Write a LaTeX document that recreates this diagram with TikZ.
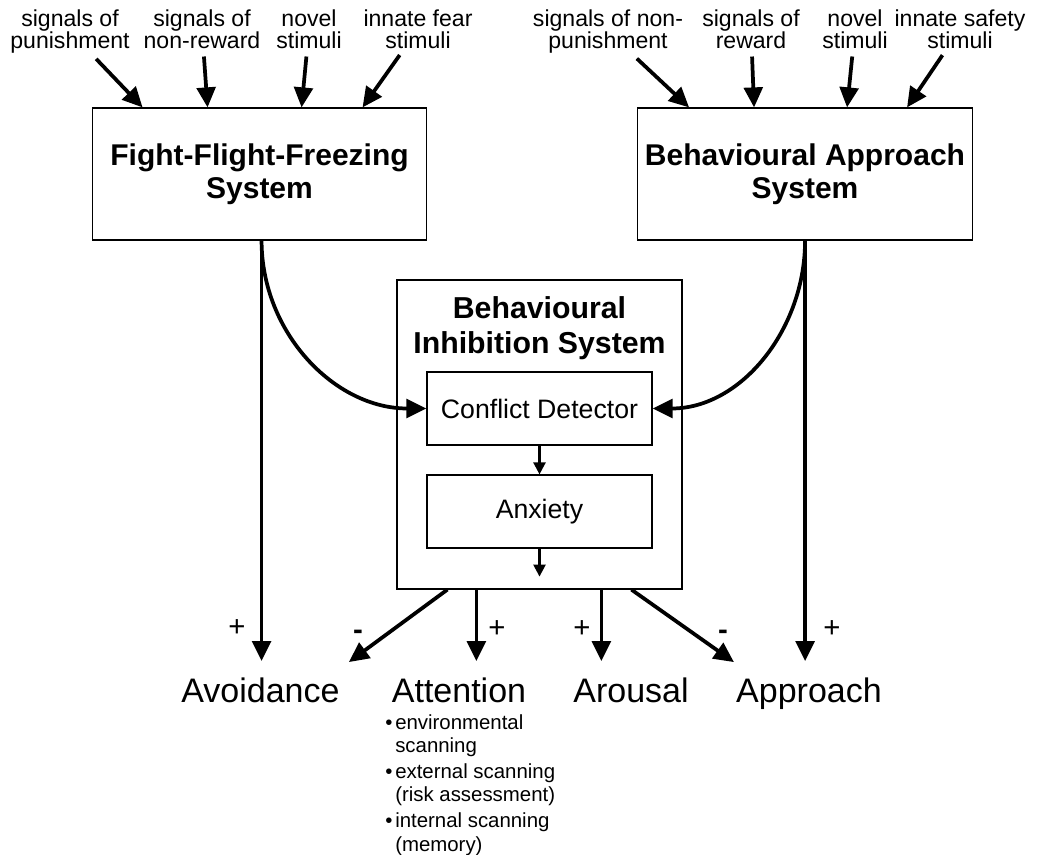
\documentclass[tikz,border=0pt]{standalone}
\usepackage{fontspec}
\setmainfont{Liberation Sans}
\usetikzlibrary{arrows.meta, calc, positioning}

\begin{document}
\begin{tikzpicture}[x=0.75pt, y=-0.75pt, >={Triangle[length=15pt,width=14pt]},
		sysbox/.style={draw, line width=0.9pt, minimum width=251pt, minimum height=99pt, align=center,
				font=\bfseries\fontsize{22.5}{25}\selectfont},
		innerbox/.style={draw, line width=0.9pt, minimum width=168.75pt, minimum height=54.75pt,
				font=\fontsize{20}{24}\selectfont},
		inlabel/.style={anchor=north, align=center, inner sep=0pt,
				font={\fontsize{17.3}{15.8}\selectfont\lineskiplimit=-20pt\relax}},
		outcome/.style={anchor=base, inner sep=0pt, font=\fontsize{25.5}{30}\selectfont},
		sign/.style={inner sep=0pt, font=\fontsize{22}{24}\selectfont},
		inarr/.style={->, line width=2.8pt, shorten <=6pt},
		arr/.style={->, line width=2.8pt},
		smallarr/.style={line width=1.8pt, -{Triangle[length=9pt,width=9pt]}}]

		\useasboundingbox (0,0) rectangle (1050,855);

		% Systems
		\node[sysbox] (fff) at (259.5,174) {Fight-Flight-Freezing\\System};
		\node[sysbox] (bas) at (805,174) {Behavioural Approach\\System};

		% Inputs, left
		\node[inlabel] (f1) at (70,10) {signals of\\punishment};
		\node[inlabel] (f2) at (202,10) {signals of\\non-reward};
		\node[inlabel] (f3) at (309,10) {novel\\stimuli};
		\node[inlabel] (f4) at (418,10) {innate fear\\stimuli};

		% Inputs, right
		\node[inlabel] (b1) at (608,10) {signals of non-\\punishment};
		\node[inlabel] (b2) at (751,10) {signals of\\reward};
		\node[inlabel] (b3) at (855,10) {novel\\stimuli};
		\node[inlabel] (b4) at (960,10) {innate safety\\stimuli};

		\draw[inarr] (f1) -- ($(fff.north west)+(51,0)$);
		\draw[inarr] (f2) -- ($(fff.north west)+(116,0)$);
		\draw[inarr] (f3) -- ($(fff.north west)+(210,0)$);
		\draw[inarr] (f4) -- ($(fff.north west)+(271,0)$);

		\draw[inarr] (b1) -- ($(bas.north west)+(52,0)$);
		\draw[inarr] (b2) -- ($(bas.north west)+(117,0)$);
		\draw[inarr] (b3) -- ($(bas.north west)+(210,0)$);
		\draw[inarr] (b4) -- ($(bas.north west)+(270,0)$);

		% Behavioural Inhibition System
		\node[draw, line width=0.9pt, minimum width=213.75pt, minimum height=231.75pt] (bis) at (539.5,434.5) {};
		\node[align=center, font=\bfseries\fontsize{22.7}{26}\selectfont] (bistitle) at (539.5,328) {Behavioural\\Inhibition System};
		\node[innerbox] (cd) at (539.5,408.5) {Conflict Detector};
		\node[innerbox] (anx) at (539.5,511.5) {Anxiety};

		\draw[smallarr] (cd) -- (anx);
		\draw[smallarr] (anx.south) -- ++(0,28) coordinate (anxout);

		% Outcomes
		\node[outcome] (avoid) at (260.5,702) {Avoidance};
		\node[outcome] (att) at (459,702) {Attention};
		\node[outcome] (arou) at (631,702) {Arousal};
		\node[outcome] (appr) at (809,702) {Approach};

		\node[anchor=north west, inner sep=0pt, align=left, font=\fontsize{15.3}{17.5}\selectfont] (scan) at (395,714)
			{\llap{\textbullet\hspace{2pt}}environmental\\scanning\\[2pt]
			 \llap{\textbullet\hspace{2pt}}external scanning\\(risk assessment)\\[2pt]
			 \llap{\textbullet\hspace{2pt}}internal scanning\\(memory)};

		% FFFS and BAS outputs
		\draw[arr] ($(fff.south west)+(170,0)$) coordinate (fffout) to[out=-90, in=180] (cd.west);
		\draw[arr] ($(bas.south west)+(168,0)$) coordinate (basout) to[out=-90, in=0] (cd.east);
		\draw[arr] (fffout) -- ($(fffout |- avoid.north)+(0,-16)$);
		\draw[arr] (basout) -- ($(basout |- appr.north)+(0,-16)$);

		% BIS outputs
		\draw[arr] ($(bis.south west)+(51,0)$) -- ($(avoid.north east)+(9,-15)$);
		\draw[arr] ($(bis.south west)+(80,0)$) coordinate (bo2) -- ($(bo2 |- att.north)+(0,-16)$);
		\draw[arr] ($(bis.south west)+(205,0)$) coordinate (bo3) -- ($(bo3 |- arou.north)+(0,-16)$);
		\draw[arr] ($(bis.south west)+(235,0)$) -- ($(appr.north west)+(-2,-15)$);

		% Signs
		\node[sign] (s1) at (237,628) {+};
		\node[sign] (s2) at (358,635) {\bfseries -};
		\node[sign] (s3) at (497,629) {+};
		\node[sign] (s4) at (582,629) {+};
		\node[sign] (s5) at (723,635) {\bfseries -};
		\node[sign] (s6) at (832,629) {+};

	\end{tikzpicture}
\end{document}
